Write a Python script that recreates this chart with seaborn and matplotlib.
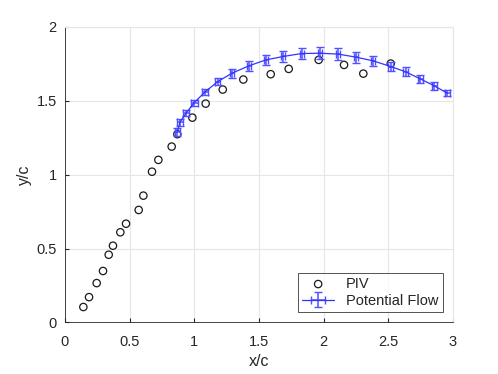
import numpy as np
import pandas as pd
import matplotlib
matplotlib.use("Agg")
import matplotlib.pyplot as plt
import seaborn as sns

# ── data ─────────────────────────────────────────────────────────────────────
piv_x = [0.142, 0.186, 0.245, 0.294, 0.338, 0.371, 0.428, 0.472, 0.570, 0.606,
         0.673, 0.722, 0.825, 0.869, 0.985, 1.088, 1.220, 1.379, 1.591, 1.730,
         1.962, 2.158, 2.307, 2.519]
piv_y = [0.104, 0.171, 0.266, 0.348, 0.458, 0.519, 0.610, 0.668, 0.761, 0.858,
         1.020, 1.100, 1.190, 1.274, 1.386, 1.481, 1.576, 1.644, 1.680, 1.716,
         1.777, 1.743, 1.684, 1.752]

pf_x = [0.869, 0.889, 0.936, 1.000, 1.083, 1.181, 1.292, 1.423, 1.554, 1.688,
        1.830, 1.972, 2.114, 2.253, 2.384, 2.519, 2.635, 2.748, 2.856, 2.957]
pf_y = [1.290, 1.355, 1.416, 1.488, 1.560, 1.630, 1.687, 1.737, 1.777, 1.800,
        1.820, 1.822, 1.816, 1.795, 1.770, 1.732, 1.696, 1.648, 1.601, 1.551]
pf_xerr = [0.02, 0.02, 0.025, 0.025, 0.025, 0.02, 0.015, 0.015, 0.015, 0.015,
           0.015, 0.015, 0.015, 0.015, 0.015, 0.02, 0.02, 0.02, 0.02, 0.02]
pf_yerr = [0.025, 0.025, 0.02, 0.02, 0.02, 0.025, 0.03, 0.035, 0.035, 0.037,
           0.037, 0.04, 0.04, 0.037, 0.035, 0.03, 0.03, 0.025, 0.025, 0.02]

piv = pd.DataFrame({"x": piv_x, "y": piv_y})

sns.set_style("white")
plt.rcParams["font.family"] = ["Liberation Sans", "DejaVu Sans"]

fig = plt.figure(figsize=(4.98, 3.74), dpi=100)
ax = fig.add_axes([0.1305, 0.138, 0.779, 0.79])

ax.grid(True, color="#e6e6e6", lw=0.8)
ax.set_axisbelow(True)

sns.scatterplot(data=piv, x="x", y="y", marker="o", s=28,
                facecolor="none", edgecolor="#1a1a1a", linewidth=0.9,
                label="PIV", ax=ax, zorder=3)

ax.errorbar(pf_x, pf_y, xerr=pf_xerr, yerr=pf_yerr, color="#3333ff",
            ecolor="#5050ff", elinewidth=1.1, capsize=3, capthick=1.0,
            lw=0.9, label="Potential Flow", zorder=4)

ax.set_xlim(0, 3)
ax.set_ylim(0, 2)
ax.set_xticks([0, 0.5, 1, 1.5, 2, 2.5, 3])
ax.set_xticklabels(["0", "0.5", "1", "1.5", "2", "2.5", "3"])
ax.set_yticks([0, 0.5, 1, 1.5, 2])
ax.set_yticklabels(["0", "0.5", "1", "1.5", "2"])
ax.tick_params(direction="in", length=3, labelsize=10.5, colors="#262626",
               left=True, bottom=True)
ax.tick_params(axis="x", pad=9)
ax.tick_params(axis="y", pad=6)
ax.set_xlabel("x/c", fontsize=11.5, color="#262626", labelpad=4)
ax.set_ylabel("y/c", fontsize=11.5, color="#262626", labelpad=3)

for side in ["top", "right"]:
    ax.spines[side].set_color("#e6e6e6")
for side in ["left", "bottom"]:
    ax.spines[side].set_color("#262626")
    ax.spines[side].set_linewidth(0.6)

leg = ax.legend(loc="lower right", fontsize=10.5, frameon=True, fancybox=False,
                edgecolor="#262626", borderpad=0.3, handlelength=2.2,
                labelspacing=0.2, borderaxespad=0.7)
leg.get_frame().set_linewidth(0.7)

plt.savefig("out.png", dpi=100)
plt.close()
